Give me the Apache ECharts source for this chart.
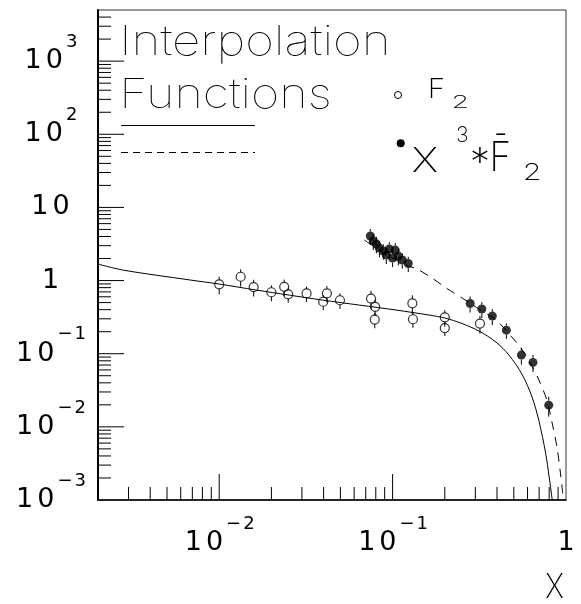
<!DOCTYPE html>
<html>
<head>
<meta charset="utf-8">
<script src="https://cdn.jsdelivr.net/npm/echarts@6/dist/echarts.min.js"></script>
<style>
  html, body { margin: 0; padding: 0; background: #fff; }
  #chart { width: 581px; height: 604px; }
</style>
</head>
<body>
<div id="chart"></div>
<script>
// F2 measurements (open circles)
const f2X = [0.0100, 0.0133, 0.0158, 0.0200, 0.0237, 0.0250, 0.0319, 0.0418, 0.0398, 0.0497,
             0.0751, 0.0793, 0.0789, 0.130, 0.131, 0.200, 0.200, 0.319];
const f2Y = [0.887, 1.127, 0.815, 0.692, 0.820, 0.648, 0.668, 0.670, 0.513, 0.538,
             0.567, 0.437, 0.293, 0.488, 0.296, 0.314, 0.224, 0.258];
const f2Err = [0.24, 0.30, 0.21, 0.17, 0.21, 0.15, 0.16, 0.17, 0.12, 0.13,
               0.16, 0.11, 0.07, 0.14, 0.07, 0.08, 0.05, 0.07];

// x^3 * F2bar measurements (filled circles)
const fbX = [0.0744, 0.0774, 0.0806, 0.0839, 0.0884, 0.0920, 0.0957, 0.100, 0.1036, 0.1079,
             0.1137, 0.1231, 0.280, 0.327, 0.376, 0.453, 0.553, 0.645, 0.795];
const fbY = [4.06, 3.47, 3.16, 2.78, 2.53, 2.23, 2.70, 2.03, 2.61, 2.16,
             1.91, 1.71, 0.485, 0.408, 0.327, 0.210, 0.0957, 0.076, 0.0198];
const fbErr = [1.0, 0.85, 0.8, 0.7, 0.6, 0.55, 0.65, 0.5, 0.65, 0.55,
               0.45, 0.4, 0.12, 0.1, 0.08, 0.05, 0.025, 0.02, 0.006];

// interpolation functions
const solidX = [0.002, 0.00279, 0.00676, 0.0100, 0.0164, 0.0394, 0.0643, 0.105, 0.163, 0.201,
                0.252, 0.315, 0.395, 0.469, 0.557, 0.637, 0.698, 0.761, 0.800, 0.833];
const solidY = [1.68, 1.39, 1.02, 0.896, 0.741, 0.541, 0.462, 0.395, 0.337, 0.307,
                0.258, 0.204, 0.144, 0.0957, 0.0527, 0.0256, 0.01208, 0.00452, 0.00205, 0.001];
const dashX = [0.0687, 0.0839, 0.1023, 0.1231, 0.137, 0.169, 0.204, 0.252, 0.315, 0.395,
               0.482, 0.550, 0.628, 0.698, 0.776, 0.830, 0.887, 0.929, 0.953, 0.966];
const dashY = [3.58, 2.61, 1.97, 1.58, 1.46, 1.08, 0.789, 0.576, 0.408, 0.288,
               0.174, 0.119, 0.0721, 0.0435, 0.0232, 0.0116, 0.00527, 0.00233, 0.00136, 0.001];

// axes
const xMin = 0.002, xMax = 1;
const yMin = 0.001, yMax = 5000;
const xLabelPowers = [-2, -1, 0];
const xTickLabels = ['10^-2', '10^-1', '1'];
const yLabelPowers = [-3, -2, -1, 0, 1, 2, 3];
const yTickLabels = ['10^-3', '10^-2', '10^-1', '1', '10', '10^2', '10^3'];
const tickMantissas = [1, 2, 3, 4, 5, 6, 7, 8, 9];
const xDecades = [-3, -2, -1];
const yDecades = [-3, -2, -1, 0, 1, 2, 3];

const FONT = 'DejaVu Sans';
const THIN = 'Inter';

// --- thin legend text, fitted to the box its ink covers in the picture
const mctx = document.createElement('canvas').getContext('2d');
function ink(text, size, weight) {
  mctx.font = weight + ' ' + size + 'px ' + THIN;
  mctx.textAlign = 'left';
  mctx.textBaseline = 'middle';
  const m = mctx.measureText(text);
  return { l: m.actualBoundingBoxLeft, r: m.actualBoundingBoxRight, a: m.actualBoundingBoxAscent, d: m.actualBoundingBoxDescent };
}
function inkText(text, weight, x0, x1, y0, y1, capRef) {
  const ref = capRef || text;
  const r100 = ink(ref, 100, weight);
  const size = 100 * (y1 - y0) / (r100.a + r100.d);
  const b = ink(text, size, weight);
  const rs = ink(ref, size, weight);
  const sx = (x1 - x0) / (b.l + b.r);
  return {
    type: 'text', x: x0 + b.l * sx, y: y0 + rs.a, scaleX: sx, silent: true,
    style: { text: text, fontFamily: THIN, fontWeight: weight, fontSize: size, fill: '#000', align: 'left', verticalAlign: 'middle' }
  };
}

function tickData(decades, lo, hi, isX) {
  const out = [];
  decades.forEach(function (d) {
    tickMantissas.forEach(function (m) {
      const v = m * Math.pow(10, d);
      if (v <= lo * 1.0001 || v >= hi * 0.9999) return;
      out.push(isX ? [v, yMin, m === 1 ? 1 : 0] : [xMin, v, m === 1 ? 1 : 0]);
    });
  });
  return out;
}

function richLabel(str, digitStyle) {
  const parts = str.split('^');
  let s = parts[0].split('').map(function (ch) { return '{' + digitStyle + '|' + ch + '}'; }).join('');
  if (parts[1]) {
    s += parts[1].split('').map(function (ch) {
      return '{e|' + (ch === '-' ? '\u2212' : ch) + '}';
    }).join('');
  }
  return s;
}

function labelFormatter(powers, labels, digitStyle) {
  return function (v) {
    const p = Math.log10(v);
    const k = Math.round(p);
    if (Math.abs(p - k) > 1e-6) return '';
    const i = powers.indexOf(k);
    return i < 0 ? '' : richLabel(labels[i], digitStyle);
  };
}

const labelRich = {
  d: { fontSize: 27, fontFamily: FONT, color: '#000', padding: [0, 2, 0, 2] },
  q: { fontSize: 27, fontFamily: FONT, color: '#000', padding: [14, 2, 14, 2] },
  e: { fontSize: 18, fontFamily: FONT, color: '#000', padding: [0, 1, 38, 1] }
};

function tickRender(isX) {
  return function (params, api) {
    const p = api.coord([api.value(0), api.value(1)]);
    const len = api.value(2) ? 26 : 13;
    const shape = isX
      ? { x1: p[0], y1: p[1], x2: p[0], y2: p[1] - len }
      : { x1: p[0], y1: p[1], x2: p[0] + len, y2: p[1] };
    return { type: 'line', shape: shape, style: { stroke: '#000', lineWidth: 1 } };
  };
}

function errRender(params, api) {
  const x = api.value(0), y = api.value(1), e = api.value(2);
  const c = api.coord([x, y]);
  const top = api.coord([x, y + e]);
  const bot = api.coord([x, y - e]);
  const r = 4.5;
  const children = [];
  if (c[1] - top[1] > r) {
    children.push({ type: 'line', shape: { x1: c[0], y1: c[1] - r, x2: c[0], y2: top[1] }, style: { stroke: '#000', lineWidth: 1 } });
  }
  if (bot[1] - c[1] > r) {
    children.push({ type: 'line', shape: { x1: c[0], y1: c[1] + r, x2: c[0], y2: bot[1] }, style: { stroke: '#000', lineWidth: 1 } });
  }
  return { type: 'group', children: children };
}

const zip3 = function (a, b, c) { return a.map(function (v, i) { return [v, b[i], c[i]]; }); };
const zip2 = function (a, b) { return a.map(function (v, i) { return [v, b[i]]; }); };

const chart = echarts.init(document.getElementById('chart'));

chart.setOption({
  animation: false,
  backgroundColor: '#fff',
  grid: {
    left: 98, right: 15, top: 10, bottom: 104,
    show: true, borderColor: '#333', borderWidth: 1, backgroundColor: 'transparent'
  },
  xAxis: {
    type: 'log', logBase: 10, min: xMin, max: xMax,
    axisLine: { onZero: false, lineStyle: { color: '#000', width: 1.5 } },
    axisTick: { show: false },
    splitLine: { show: false },
    axisLabel: {
      interval: 0, margin: 15, rich: labelRich,
      formatter: labelFormatter(xLabelPowers, xTickLabels, 'q')
    }
  },
  yAxis: {
    type: 'log', logBase: 10, min: yMin, max: yMax,
    axisLine: { lineStyle: { color: '#000', width: 2 } },
    axisTick: { show: false },
    splitLine: { show: false },
    axisLabel: {
      interval: 0, margin: 47.5, align: 'center', rich: labelRich,
      formatter: labelFormatter(yLabelPowers, yTickLabels, 'd')
    }
  },
  graphic: [
    inkText('Interpolation', 100, 124, 387, 25, 55, 'I'),
    inkText('Functions', 100, 124, 329, 78, 108, 'F'),
    { type: 'line', shape: { x1: 121, y1: 125.5, x2: 255, y2: 125.5 }, style: { stroke: '#000', lineWidth: 1 } },
    { type: 'line', shape: { x1: 121, y1: 152.5, x2: 255, y2: 152.5 }, style: { stroke: '#000', lineWidth: 1, lineDash: [7, 5] } },
    { type: 'circle', shape: { cx: 398, cy: 95, r: 3.5 }, style: { fill: 'none', stroke: '#000', lineWidth: 1 } },
    inkText('F', 150, 430, 443, 78, 98),
    inkText('2', 200, 453, 468, 95, 108),
    { type: 'circle', shape: { cx: 400.7, cy: 143.3, r: 4 }, style: { fill: '#000' } },
    inkText('X', 150, 413, 437, 147, 172),
    inkText('3', 200, 457, 468, 126, 142),
    inkText('*', 150, 472, 488, 147, 163),
    inkText('F\u0304', 150, 493, 509, 133, 170),
    inkText('2', 200, 524, 540, 163, 180),
    inkText('X', 150, 546, 563, 573, 598)
  ],
  series: [
    {
      name: 'F2 interpolation', type: 'line', data: zip2(solidX, solidY),
      showSymbol: false, smooth: 0.3, clip: true,
      lineStyle: { color: '#000', width: 1 }, z: 2
    },
    {
      name: 'x3 F2bar interpolation', type: 'line', data: zip2(dashX, dashY),
      showSymbol: false, smooth: 0.3, clip: true,
      lineStyle: { color: '#000', width: 1, type: [9, 7] }, z: 2
    },
    {
      name: 'F2 errors', type: 'custom', renderItem: errRender,
      data: zip3(f2X, f2Y, f2Err), encode: { x: 0, y: 1 }, z: 3
    },
    {
      name: 'F2', type: 'scatter', data: zip2(f2X, f2Y), symbol: 'circle', symbolSize: 9,
      itemStyle: { color: 'rgba(0,0,0,0)', borderColor: '#000', borderWidth: 1.2 }, z: 4
    },
    {
      name: 'F2bar errors', type: 'custom', renderItem: errRender,
      data: zip3(fbX, fbY, fbErr), encode: { x: 0, y: 1 }, z: 3
    },
    {
      name: 'x3 F2bar', type: 'scatter', data: zip2(fbX, fbY), symbol: 'circle', symbolSize: 9,
      itemStyle: { color: '#000' }, z: 4
    },
    {
      name: 'x ticks', type: 'custom', renderItem: tickRender(true),
      data: tickData(xDecades, xMin, xMax, true), encode: { x: 0, y: 1 }, silent: true, z: 5
    },
    {
      name: 'y ticks', type: 'custom', renderItem: tickRender(false),
      data: tickData(yDecades, yMin, yMax, false), encode: { x: 0, y: 1 }, silent: true, z: 5
    }
  ]
});
</script>
</body>
</html>
